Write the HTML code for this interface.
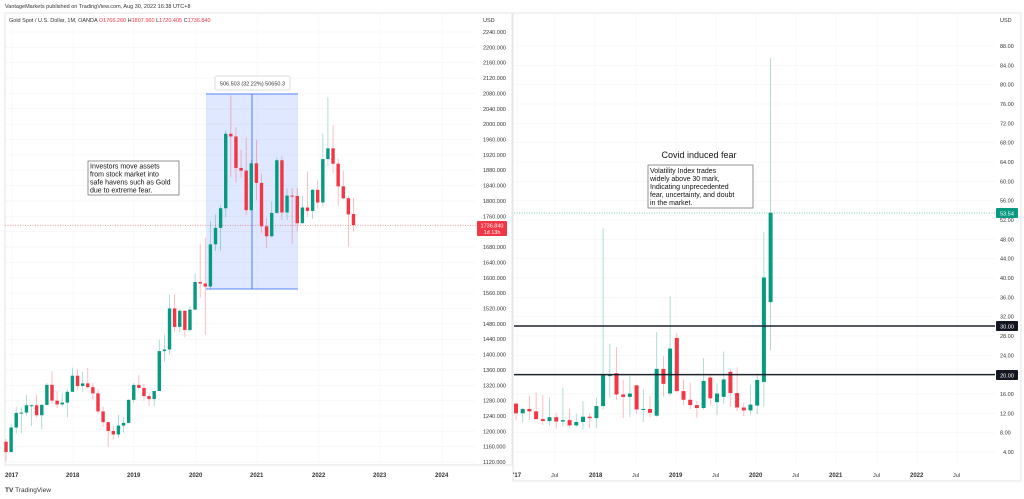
<!DOCTYPE html>
<html><head><meta charset="utf-8"><style>
html,body{margin:0;padding:0;background:#fff;width:1024px;height:499px;overflow:hidden;font-family:"Liberation Sans",sans-serif}
svg{display:block}
text{font-family:"Liberation Sans",sans-serif}
</style></head><body>
<svg id="s" width="1024" height="499" viewBox="0 0 1024 499" xmlns="http://www.w3.org/2000/svg">
<rect width="1024" height="499" fill="#fff"/>
<g id="grid"></g>
<rect x="5" y="13" width="507" height="452" fill="none" stroke="#e6e6e6"/>
<rect x="513" y="13" width="508" height="468" fill="none" stroke="#e6e6e6"/>
<text x="5" y="8" font-size="5.5" fill="#333">VantageMarkets published on TradingView.com, Aug 30, 2022 16:38 UTC+8</text>
<text x="9" y="22" font-size="5.5" fill="#333">Gold Spot / U.S. Dollar, 1M, OANDA  <tspan fill="#f23645">O</tspan><tspan fill="#f23645">1766.260</tspan>  H<tspan fill="#f23645">1807.960</tspan>  L<tspan fill="#f23645">1720.405</tspan>  C<tspan fill="#f23645">1736.840</tspan></text>
<text x="483" y="22" font-size="5.5" fill="#333">USD</text>
<text x="1000" y="22" font-size="5.5" fill="#333">USD</text>
<!-- blue range -->
<rect x="206" y="94" width="92" height="195" fill="#2962ff" fill-opacity="0.15"/>
<line x1="206" y1="94" x2="298" y2="94" stroke="#2962ff" stroke-width="0.8"/>
<line x1="206" y1="289" x2="298" y2="289" stroke="#2962ff" stroke-width="0.8"/>
<line x1="252" y1="94" x2="252" y2="289" stroke="#2962ff" stroke-width="0.8"/>
<rect x="215" y="76" width="75" height="14" rx="2" fill="#fff" stroke="#ddd"/>
<text x="252.5" y="85.5" font-size="5.5" fill="#333" text-anchor="middle">506.503 (32.22%) 50650.3</text>
<line x1="5" y1="225.2" x2="477" y2="225.2" stroke="#f23645" stroke-width="0.5" stroke-dasharray="1,1.5"/>
<line x1="514" y1="213" x2="995" y2="213" stroke="#089981" stroke-width="0.5" stroke-dasharray="1,1.5"/>
<g id="c"></g>
<line x1="514" y1="326" x2="995" y2="326" stroke="#1e222d" stroke-width="1.5"/>
<line x1="514" y1="374.6" x2="995" y2="374.6" stroke="#1e222d" stroke-width="1.5"/>
<rect x="996" y="321" width="22" height="10" rx="1" fill="#131722"/>
<text x="1007" y="328.5" font-size="5.5" fill="#fff" text-anchor="middle">30.00</text>
<rect x="996" y="370" width="22" height="10" rx="1" fill="#131722"/>
<text x="1007" y="377.5" font-size="5.5" fill="#fff" text-anchor="middle">20.00</text>
<rect x="996" y="208" width="22" height="10" rx="1" fill="#089981"/>
<text x="1007" y="215.5" font-size="5.5" fill="#fff" text-anchor="middle">53.54</text>
<rect x="477" y="221" width="30" height="15" rx="1" fill="#f23645"/>
<text x="492" y="227.5" font-size="5.5" fill="#fff" text-anchor="middle">1736.840</text>
<text x="492" y="234" font-size="5.5" fill="#fff" text-anchor="middle">1d 13h</text>
<!-- annotations -->
<rect x="88" y="161" width="91" height="34" fill="#fff" stroke="#666" stroke-width="0.7"/>
<text font-size="7" fill="#111"><tspan x="90" y="168.5">Investors move assets</tspan><tspan x="90" y="176.5">from stock market into</tspan><tspan x="90" y="184.5">safe havens such as Gold</tspan><tspan x="90" y="192.5">due to extreme fear.</tspan></text>
<text x="699" y="158" font-size="9" fill="#111" text-anchor="middle">Covid induced fear</text>
<rect x="648" y="165" width="105" height="43" fill="#fff" stroke="#666" stroke-width="0.7"/>
<text font-size="7" fill="#111"><tspan x="650" y="173">Volatility Index trades</tspan><tspan x="650" y="181">widely above 30 mark,</tspan><tspan x="650" y="189">Indicating unprecedented</tspan><tspan x="650" y="197">fear, uncertainty, and doubt</tspan><tspan x="650" y="205">in the market.</tspan></text>
<g id="labels" font-size="5.5" fill="#333"></g>
<text x="5" y="477" font-size="6" font-weight="bold" fill="#333">2017</text>
<text x="66" y="477" font-size="6" font-weight="bold" fill="#333">2018</text>
<text x="127" y="477" font-size="6" font-weight="bold" fill="#333">2019</text>
<text x="189" y="477" font-size="6" font-weight="bold" fill="#333">2020</text>
<text x="250" y="477" font-size="6" font-weight="bold" fill="#333">2021</text>
<text x="312" y="477" font-size="6" font-weight="bold" fill="#333">2022</text>
<text x="373" y="477" font-size="6" font-weight="bold" fill="#333">2023</text>
<text x="435" y="477" font-size="6" font-weight="bold" fill="#333">2024</text>
<text x="513" y="477" font-size="6" font-weight="bold" fill="#333">'17</text>
<text x="551" y="477" font-size="5.5" fill="#333">Jul</text>
<text x="589" y="477" font-size="6" font-weight="bold" fill="#333">2018</text>
<text x="632" y="477" font-size="5.5" fill="#333">Jul</text>
<text x="669" y="477" font-size="6" font-weight="bold" fill="#333">2019</text>
<text x="712" y="477" font-size="5.5" fill="#333">Jul</text>
<text x="749" y="477" font-size="6" font-weight="bold" fill="#333">2020</text>
<text x="792" y="477" font-size="5.5" fill="#333">Jul</text>
<text x="829" y="477" font-size="6" font-weight="bold" fill="#333">2021</text>
<text x="873" y="477" font-size="5.5" fill="#333">Jul</text>
<text x="910" y="477" font-size="6" font-weight="bold" fill="#333">2022</text>
<text x="953" y="477" font-size="5.5" fill="#333">Jul</text>
<text x="5" y="492" font-size="6.5" font-weight="bold" fill="#333">TV <tspan font-weight="normal">TradingView</tspan></text>
<text font-size="5.5" fill="#333">
<tspan x="483" y="34">2240.000</tspan><tspan x="483" y="49.4">2200.000</tspan><tspan x="483" y="64.7">2160.000</tspan><tspan x="483" y="80.1">2120.000</tspan><tspan x="483" y="95.4">2080.000</tspan><tspan x="483" y="110.8">2040.000</tspan><tspan x="483" y="126.2">2000.000</tspan><tspan x="483" y="141.5">1960.000</tspan><tspan x="483" y="156.9">1920.000</tspan><tspan x="483" y="172.2">1880.000</tspan><tspan x="483" y="187.6">1840.000</tspan><tspan x="483" y="203">1800.000</tspan><tspan x="483" y="218.3">1760.000</tspan><tspan x="483" y="249">1680.000</tspan><tspan x="483" y="264.4">1640.000</tspan><tspan x="483" y="279.8">1600.000</tspan><tspan x="483" y="295.1">1560.000</tspan><tspan x="483" y="310.5">1520.000</tspan><tspan x="483" y="325.8">1480.000</tspan><tspan x="483" y="341.2">1440.000</tspan><tspan x="483" y="356.6">1400.000</tspan><tspan x="483" y="371.9">1360.000</tspan><tspan x="483" y="387.3">1320.000</tspan><tspan x="483" y="402.6">1280.000</tspan><tspan x="483" y="418">1240.000</tspan><tspan x="483" y="433.4">1200.000</tspan><tspan x="483" y="448.7">1160.000</tspan><tspan x="483" y="464">1120.000</tspan>
</text>
<text font-size="5.5" fill="#333">
<tspan x="1000" y="48">88.00</tspan><tspan x="1000" y="67.4">84.00</tspan><tspan x="1000" y="86.7">80.00</tspan><tspan x="1000" y="106">76.00</tspan><tspan x="1000" y="125.4">72.00</tspan><tspan x="1000" y="144.7">68.00</tspan><tspan x="1000" y="164">64.00</tspan><tspan x="1000" y="183.4">60.00</tspan><tspan x="1000" y="202.7">56.00</tspan><tspan x="1000" y="222">52.00</tspan><tspan x="1000" y="241.4">48.00</tspan><tspan x="1000" y="260.7">44.00</tspan><tspan x="1000" y="280">40.00</tspan><tspan x="1000" y="299.4">36.00</tspan><tspan x="1000" y="318.7">32.00</tspan><tspan x="1000" y="338">28.00</tspan><tspan x="1000" y="357.4">24.00</tspan><tspan x="1000" y="396">16.00</tspan><tspan x="1000" y="415.4">12.00</tspan><tspan x="1000" y="434.7">8.00</tspan><tspan x="1003" y="454">4.00</tspan>
</text>
</svg>
<script>
var NS="http://www.w3.org/2000/svg",c=document.getElementById('c'),g=document.getElementById('grid');
function el(t,a,p){var e=document.createElementNS(NS,t);for(var k in a)e.setAttribute(k,a[k]);(p||c).appendChild(e);}
// grid
for(var p=1120;p<=2240;p+=40){var y=32+(2240-p)/40*15.36;el('line',{x1:5,x2:475,y1:y,y2:y,stroke:'#f3f3f3','stroke-width':0.6},g);}
[12,73,134,196,257,319,380,442].forEach(function(x){el('line',{x1:x,x2:x,y1:13,y2:465,stroke:'#f3f3f3','stroke-width':0.6},g);});
for(var v=4;v<=88;v+=4){var y=46+(88-v)*4.833;el('line',{x1:514,x2:995,y1:y,y2:y,stroke:'#f3f3f3','stroke-width':0.6},g);}
[517,555,595,636,676,716,756,796,836,877,917,957].forEach(function(x){el('line',{x1:x,x2:x,y1:13,y2:465,stroke:'#f3f3f3','stroke-width':0.6},g);});
function draw(d,x0,dx,w,fy){d.forEach(function(r,i){var x=x0+i*dx,o=r[0],h=r[1],l=r[2],cl=r[3],col=cl>=o?'#089981':'#f23645';
el('line',{x1:x,x2:x,y1:fy(h),y2:fy(l),stroke:col,'stroke-opacity':0.4,'stroke-width':0.8});
var a=fy(Math.max(o,cl)),b=fy(Math.min(o,cl));el('rect',{x:x-w/2,y:a,width:w,height:Math.max(b-a,1),fill:col});});}
var G=[[1173,1180,1122,1146],[1146,1220,1146,1210],[1210,1264,1194,1248],[1248,1262,1195,1249],[1249,1295,1241,1268],[1268,1270,1214,1268],[1268,1296,1236,1242],[1242,1271,1205,1269],[1269,1326,1267,1321],[1321,1357,1271,1280],[1280,1306,1261,1270],[1270,1299,1264,1275],[1275,1309,1236,1303],
[1303,1366,1302,1345],[1345,1361,1307,1318],[1318,1356,1303,1325],[1325,1365,1311,1315],[1315,1326,1282,1299],[1299,1309,1245,1252],[1252,1265,1211,1224],[1224,1225,1160,1201],[1201,1214,1180,1192],[1192,1243,1183,1215],[1215,1237,1196,1222],[1222,1284,1221,1282],
[1282,1326,1275,1321],[1321,1346,1311,1313],[1313,1324,1280,1292],[1292,1302,1266,1284],[1284,1306,1266,1305],[1305,1439,1305,1409],[1409,1452,1381,1413],[1413,1555,1400,1520],[1520,1557,1459,1472],[1472,1518,1458,1514],[1514,1516,1445,1464],[1464,1525,1459,1517],
[1517,1611,1517,1589],[1589,1689,1548,1585],[1585,1704,1451,1577],[1577,1747,1568,1687],[1687,1765,1670,1730],[1730,1789,1671,1781],[1781,1984,1757,1975],[1975,2075,1863,1968],[1968,1992,1848,1886],[1886,1933,1860,1879],[1879,1965,1764,1776],[1776,1906,1775,1898],
[1898,1959,1802,1847],[1847,1871,1717,1734],[1734,1756,1677,1708],[1708,1798,1705,1769],[1769,1913,1766,1906],[1906,1916,1750,1770],[1770,1833,1750,1814],[1814,1834,1688,1813],[1813,1834,1721,1742],[1742,1814,1746,1783],[1783,1877,1758,1774],[1774,1831,1753,1829],
[1829,1853,1780,1796],[1796,1976,1786,1909],[1909,2070,1890,1937],[1937,1998,1872,1897],[1897,1910,1787,1838],[1838,1879,1805,1807],[1807,1814,1681,1765],[1766,1808,1720,1737]];
draw(G,6,5.11,3.4,function(p){return 32+(2240-p)/40*15.36;});
var V=[[14,14.2,10.6,12],[12,13.1,10.1,12.9],[12.9,15.6,10.6,12.4],[12.4,16.3,10.8,10.8],[10.8,15.8,9.6,10.4],[10.4,15.2,9.4,11.2],[11.2,12,8.8,10.3],[10.3,17.3,9.3,10.6],[10.6,12.9,9.1,9.5],[9.5,11.9,9.2,10.2],[10.2,14.5,8.6,11.3],[11.3,12,8.9,11],
[11,15.2,8.9,13.5],[13.5,50.3,12.8,19.9],[19.9,26.4,15.2,19.9],[20.3,25.7,14.7,15.9],[15.9,18.9,11,15.4],[15.4,19.7,11.2,16.1],[17.8,17.6,11.9,12.8],[12.8,16.9,10.2,12.9],[12.9,15.6,11.2,12.1],[11.5,28.8,11.3,21.2],[21.2,23.8,15.4,18.1],[16.1,36.2,15.6,25.4],
[27.6,28.5,16.3,16.6],[16.6,19,13.7,14.8],[14.8,18.4,12.9,13.7],[13.7,14.6,11,13.1],[13.1,23.4,12.8,18.7],[19.4,19.9,13.6,15.1],[14.3,18.2,11.7,16.1],[15.4,24.8,14,19],[20.6,21,13.3,16.2],[16.2,21.5,12.4,13.2],[13.2,14.2,11.4,12.6],[12.6,17.9,11.7,13.8],
[13.6,19.9,11.8,18.9],[18.5,49.5,13.4,40.1],[35,85.5,25,53.5]];
draw(V,516,6.7,4,function(v){return 46+(88-v)*4.833;});
</script>
</body></html>
